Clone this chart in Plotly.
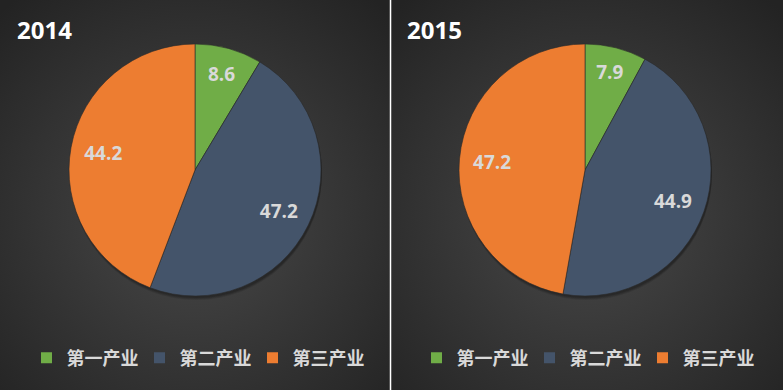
import base64
import plotly.graph_objects as go

categories = ["第一产业", "第二产业", "第三产业"]
years = ["2014", "2015"]
values_2014 = [8.6, 47.2, 44.2]
values_2015 = [7.9, 44.9, 47.2]
colors = ["#70AD47", "#44546A", "#ED7D31"]

W, H = 783, 390

svg = '''<svg xmlns="http://www.w3.org/2000/svg" width="391" height="390" viewBox="0 0 391 390">
<defs><radialGradient id="g" cx="50%" cy="55%" r="72%">
<stop offset="0%" stop-color="#494949"/><stop offset="100%" stop-color="#232323"/>
</radialGradient></defs><rect width="391" height="390" fill="url(#g)"/></svg>'''
bg = "data:image/svg+xml;base64," + base64.b64encode(svg.encode()).decode()

font_cjk = "Noto Sans CJK SC, Open Sans, sans-serif"
label_font = dict(family="Open Sans", size=19, color="#D9D9D9", weight="bold")

fig = go.Figure()
domains = [[69 / W, 321 / W], [459 / W, 711 / W]]
top, bottom = 44, 296
for i, vals in enumerate([values_2014, values_2015]):
    # soft shadow layers under the pie
    for off, alpha in [(4, 0.10), (3, 0.12), (2, 0.15)]:
        fig.add_trace(go.Pie(
            labels=categories, values=vals, sort=False, direction="clockwise",
            marker=dict(colors=[f"rgba(0,0,0,{alpha})"] * 3, line=dict(width=0)),
            textinfo="none", hoverinfo="skip", showlegend=False,
            domain=dict(x=[domains[i][0] + 1 / W, domains[i][1] + 1 / W],
                        y=[1 - (bottom + off) / H, 1 - (top + off) / H]),
        ))
    # base pie: colored slices, label only for the small first slice
    fig.add_trace(go.Pie(
        labels=categories, values=vals,
        sort=False, direction="clockwise", rotation=0,
        marker=dict(colors=colors, line=dict(color="#2a2a2a", width=0.6)),
        texttemplate=["%{value}", "", ""],
        textposition="inside", insidetextorientation="horizontal",
        textfont=label_font,
        domain=dict(x=domains[i], y=[1 - bottom / H, 1 - top / H]),
        showlegend=False, hoverinfo="label+value",
    ))
    # transparent ring overlay: places labels of the large slices in the outer band
    fig.add_trace(go.Pie(
        labels=categories, values=vals, hole=0.48,
        sort=False, direction="clockwise", rotation=0,
        marker=dict(colors=["rgba(0,0,0,0)"] * 3, line=dict(width=0)),
        texttemplate=["", "%{value}", "%{value}"],
        textposition="inside", insidetextorientation="horizontal",
        textfont=label_font,
        domain=dict(x=domains[i], y=[1 - bottom / H, 1 - top / H]),
        showlegend=False, hoverinfo="skip",
    ))

# legend entries for each panel
for li, lname in enumerate(["legend", "legend2"]):
    for cat, col in zip(categories, colors):
        fig.add_trace(go.Scatter(
            x=[None], y=[None], mode="markers", name=cat,
            marker=dict(symbol="square", size=11, color=col),
            legend=lname, showlegend=True, hoverinfo="skip",
        ))

leg = dict(orientation="h", xanchor="center", yanchor="middle", y=1 - 358 / H,
           font=dict(family=font_cjk, size=18, color="#D9D9D9", weight="bold"),
           bgcolor="rgba(0,0,0,0)", entrywidth=68, itemclick=False, itemdoubleclick=False)

fig.update_layout(
    width=W, height=H, margin=dict(l=0, r=0, t=0, b=0),
    paper_bgcolor="#2b2b2b", plot_bgcolor="rgba(0,0,0,0)",
    xaxis=dict(visible=False), yaxis=dict(visible=False),
    legend=dict(leg, x=196 / W),
    legend2=dict(leg, x=586 / W),
    images=[
        dict(source=bg, xref="paper", yref="paper", x=0, y=1, sizex=390 / W, sizey=1,
             sizing="stretch", layer="below", xanchor="left", yanchor="top"),
        dict(source=bg, xref="paper", yref="paper", x=392 / W, y=1, sizex=391 / W, sizey=1,
             sizing="stretch", layer="below", xanchor="left", yanchor="top"),
    ],
    shapes=[dict(type="line", xref="paper", yref="paper", x0=390.5 / W, x1=390.5 / W,
                 y0=0, y1=1, line=dict(color="#FFFFFF", width=1.5))],
    annotations=[
        dict(text=yr, xref="paper", yref="paper", x=(15 + 390 * i) / W, y=1 - 30 / H,
             xanchor="left", yanchor="middle", showarrow=False,
             font=dict(family="Open Sans", size=24, color="#FFFFFF", weight="bold"))
        for i, yr in enumerate(years)
    ],
)

fig.write_html("out.html", config={"displayModeBar": False},
               post_script="document.body.style.margin='0';")
